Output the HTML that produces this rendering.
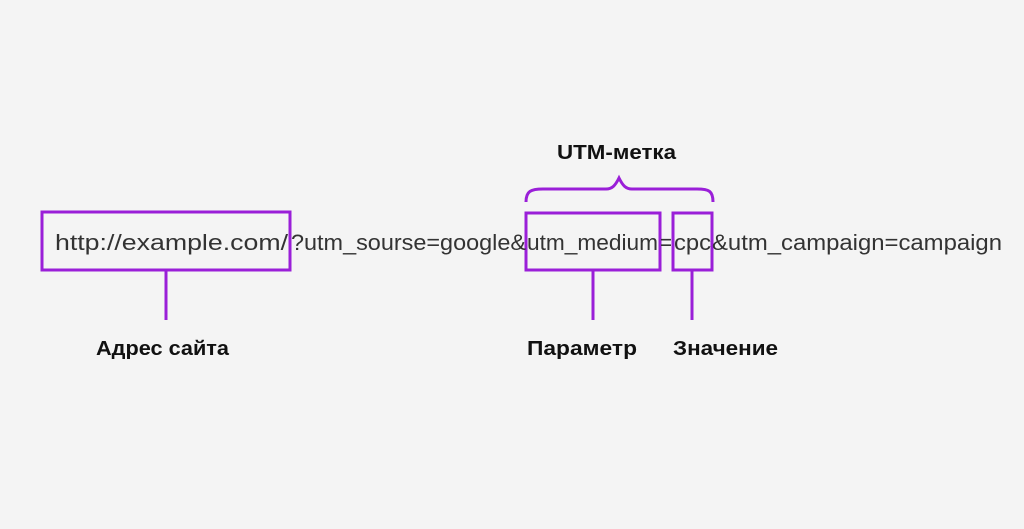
<!DOCTYPE html>
<html><head><meta charset="utf-8"><style>
html,body{margin:0;padding:0;background:#f4f4f4;}
svg{display:block;}
</style></head><body>
<svg width="1024" height="529" viewBox="0 0 1024 529" xmlns="http://www.w3.org/2000/svg">
<rect width="1024" height="529" fill="#f4f4f4"/>
<g fill="none" stroke="#9a1fd8" stroke-width="3">
<rect x="42" y="212" width="248" height="58"/>
<rect x="526" y="213" width="134" height="57"/>
<rect x="673" y="213" width="39" height="57"/>
<line x1="166" y1="270" x2="166" y2="320"/>
<line x1="593" y1="270" x2="593" y2="320"/>
<line x1="692" y1="270" x2="692" y2="320"/>
<path d="M526,202 C526,191 531,189 543,189 L606,189 C612,189 615,186 619,178 C623,186 626,189 632,189 L697,189 C709,189 713,191 713,202"/>
</g>
<g font-family="Liberation Sans, sans-serif" font-size="22" fill="#333" lengthAdjust="spacingAndGlyphs">
<text x="55" y="250" textLength="233" lengthAdjust="spacingAndGlyphs">http://example.com/</text>
<text x="291" y="250" textLength="235" lengthAdjust="spacingAndGlyphs">?utm_sourse=google&amp;</text>
<text x="527" y="250" textLength="131" lengthAdjust="spacingAndGlyphs">utm_medium</text>
<text x="660" y="250" textLength="12" lengthAdjust="spacingAndGlyphs">=</text>
<text x="674" y="250" textLength="37" lengthAdjust="spacingAndGlyphs">cpc</text>
<text x="712" y="250" textLength="290" lengthAdjust="spacingAndGlyphs">&amp;utm_campaign=campaign</text>
</g>
<g font-family="Liberation Sans, 'Noto Sans CJK SC', sans-serif" font-weight="bold" font-size="20" fill="#111">
<text x="96" y="355" textLength="133" lengthAdjust="spacingAndGlyphs">Адрес сайта</text>
<text x="527" y="355" textLength="110" lengthAdjust="spacingAndGlyphs">Параметр</text>
<text x="673" y="355" textLength="105" lengthAdjust="spacingAndGlyphs">Значение</text>
<text x="557" y="159" textLength="119" lengthAdjust="spacingAndGlyphs">UTM-метка</text>
</g>
</svg>
</body></html>
